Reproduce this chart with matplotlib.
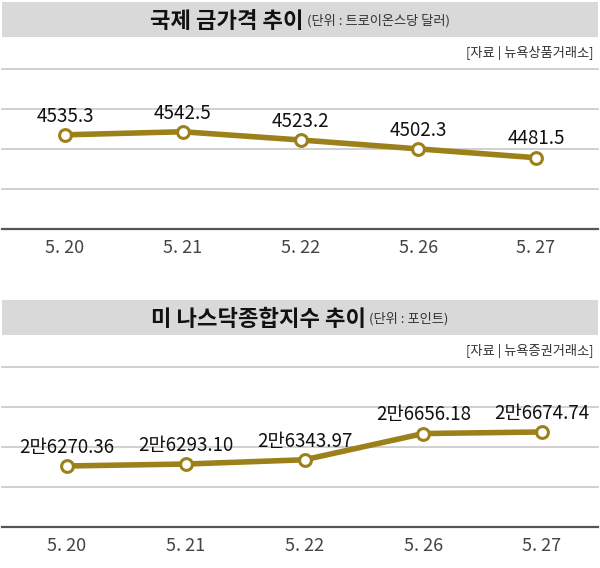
import numpy as np
import matplotlib
matplotlib.use("Agg")
import matplotlib.pyplot as plt

plt.rcParams['font.family'] = ['Noto Sans CJK KR', 'DejaVu Sans']

# data
dates = ['5. 20', '5. 21', '5. 22', '5. 26', '5. 27']
gold = [4535.3, 4542.5, 4523.2, 4502.3, 4481.5]
gold_labels = ['4535.3', '4542.5', '4523.2', '4502.3', '4481.5']
nasdaq = [26270.36, 26293.10, 26343.97, 26656.18, 26674.74]
nasdaq_labels = ['2만6270.36', '2만6293.10', '2만6343.97', '2만6656.18', '2만6674.74']

W, H = 600, 568
line_col = '#9c8019'
grid_col = '#c8c8c8'
band_col = '#d9d9d9'

fig = plt.figure(figsize=(W / 100, H / 100), dpi=100)


def px_box(x0, y0, x1, y1):
    # pixel box (top-left origin) -> figure fraction rect
    return [x0 / W, 1 - y1 / H, (x1 - x0) / W, (y1 - y0) / H]


def panel(top, title, unit, source, vals, labels, ylim, x_first, x_last):
    # grey title band
    band = fig.add_axes(px_box(2, top, 598, top + 35))
    band.set_facecolor(band_col)
    band.set_xticks([])
    band.set_yticks([])
    for s in band.spines.values():
        s.set_visible(False)
    band.set_xlim(0, 596)
    band.set_ylim(0, 1)
    t1 = band.text(0, 0.45, title, fontsize=16, fontweight='bold',
                   color='#111111', va='center', ha='left')
    t2 = band.text(0, 0.45, unit, fontsize=9.5, color='#333333',
                   va='center', ha='left')
    r = fig.canvas.get_renderer()
    w1 = t1.get_window_extent(r).width
    w2 = t2.get_window_extent(r).width
    start = 298 - (w1 + w2 + 3) / 2
    t1.set_x(start)
    t2.set_x(start + w1 + 3)

    fig.text(594 / W, 1 - (top + 51) / H, source, fontsize=9.5,
             color='#333333', ha='right', va='center')

    # plot area: top grid line to axis line
    ax = fig.add_axes(px_box(2, top + 67, 598, top + 227))
    ax.patch.set_alpha(0)
    xs = np.arange(len(vals))
    step = (x_last - x_first) / (len(vals) - 1)
    ax.set_xlim(-(x_first - 2) / step, len(vals) - 1 + (598 - x_last) / step)
    ax.set_ylim(*ylim)
    for g in np.linspace(ylim[0], ylim[1], 5)[1:]:
        ax.axhline(g, color=grid_col, lw=1.2, zorder=1, clip_on=False)
    for s in ['top', 'right', 'left']:
        ax.spines[s].set_visible(False)
    ax.spines['bottom'].set_color('#555555')
    ax.spines['bottom'].set_linewidth(1.6)
    ax.set_yticks([])
    ax.set_xticks(xs)
    ax.set_xticklabels(dates, fontsize=13, color='#444444')
    ax.tick_params(axis='x', length=0, pad=7)

    ax.plot(xs, vals, color=line_col, lw=4, zorder=3, solid_capstyle='round',
            marker='o', ms=8.5, mfc='white', mec=line_col, mew=2.2)
    for x, v, lab in zip(xs, vals, labels):
        ax.annotate(lab, (x, v), xytext=(0, 13.5), textcoords='offset points',
                    ha='center', va='center', fontsize=13.5, color='#111111')
    return ax


panel(2, '국제 금가격 추이', '(단위 : 트로이온스당 달러)', '[자료 | 뉴욕상품거래소]',
      gold, gold_labels, (4314, 4690), 65, 536)
panel(300, '미 나스닥종합지수 추이', '(단위 : 포인트)', '[자료 | 뉴욕증권거래소]',
      nasdaq, nasdaq_labels, (25544, 27448), 67, 542)

fig.savefig('out.png', dpi=100, facecolor='white')
